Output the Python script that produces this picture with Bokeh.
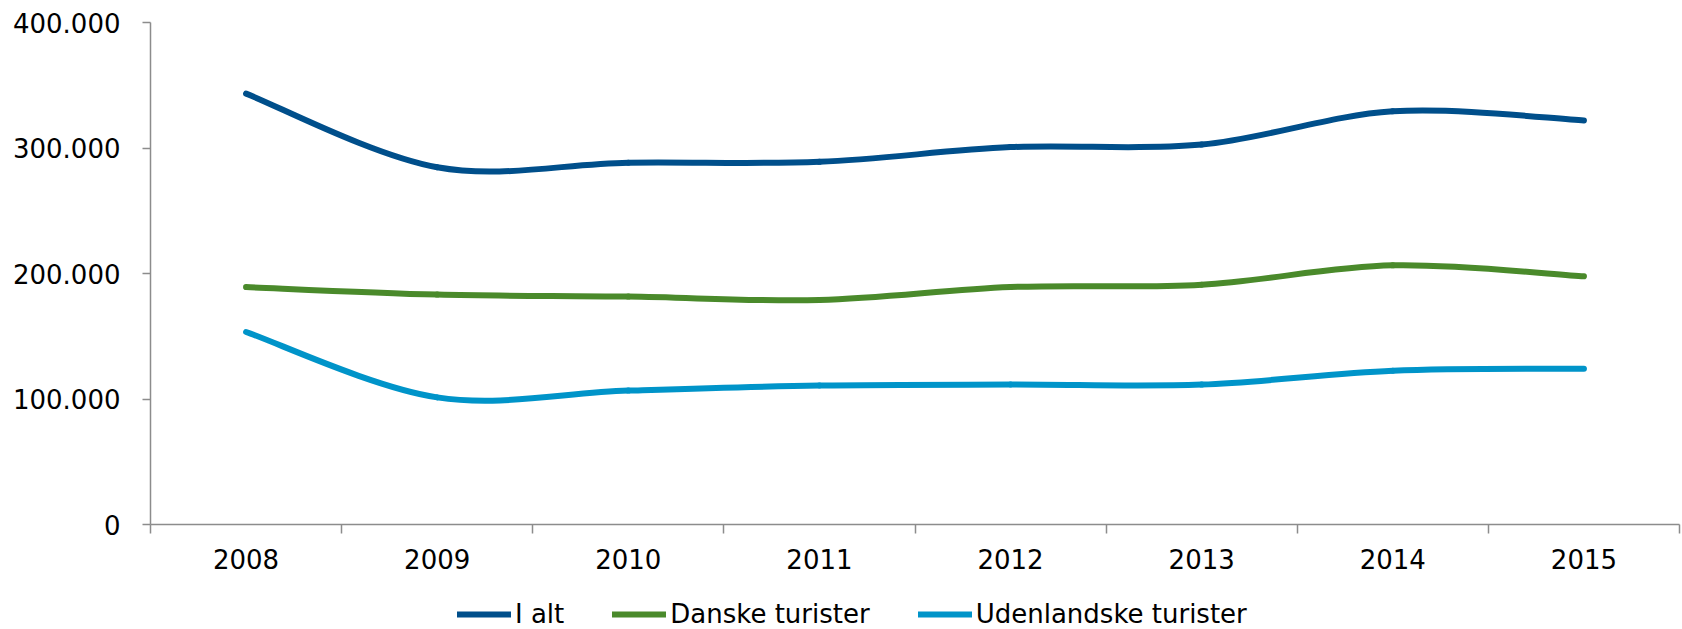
from bokeh.plotting import figure
from bokeh.layouts import column
from bokeh.models import FixedTicker, Legend, LegendItem, Range1d
from bokeh.embed import file_html
from bokeh.resources import INLINE

# ---- data ----
years = ["2008", "2009", "2010", "2011", "2012", "2013", "2014", "2015"]
i_alt = [343300, 284600, 288300, 289000, 300700, 302700, 329200, 322000]
danske = [189200, 183200, 181600, 178900, 189200, 191100, 206500, 197800]
udenlandske = [153400, 101300, 106700, 110700, 111500, 111500, 122600, 124200]
series_names = ["I alt", "Danske turister", "Udenlandske turister"]
y_ticks = [0, 100000, 200000, 300000, 400000]
y_tick_labels = ["0", "100.000", "200.000", "300.000", "400.000"]
colors = ["#004f8b", "#4a8a2b", "#0094c9"]

FONT = "DejaVu Sans"
FS = "26px"
AXIS_COLOR = "#8c8c8c"
LW = 6
NAN = float("nan")


def smooth_segments(ys):
    """Bezier segments through the data points (Excel-style smoothed line)."""
    xs = list(range(len(ys)))
    n = len(xs)

    def P(i):
        i = max(0, min(n - 1, i))
        return xs[i], ys[i]

    seg = dict(x0=[], y0=[], x1=[], y1=[], cx0=[], cy0=[], cx1=[], cy1=[])
    for i in range(n - 1):
        xa, ya = P(i)
        xb, yb = P(i + 1)
        xm, ym = P(i - 1)
        xp, yp = P(i + 2)
        seg["x0"].append(xa); seg["y0"].append(ya)
        seg["x1"].append(xb); seg["y1"].append(yb)
        seg["cx0"].append(xa + (xb - xm) / 6.0)
        seg["cy0"].append(ya + (yb - ym) / 6.0)
        seg["cx1"].append(xb - (xp - xa) / 6.0)
        seg["cy1"].append(yb - (yp - ya) / 6.0)
    return seg


p = figure(
    width=1682, height=599,
    x_range=Range1d(-0.5, len(years) - 0.5),
    y_range=Range1d(0, 400000),
    output_backend="svg", toolbar_location=None,
    min_border_left=150, min_border_right=3,
    min_border_top=22, min_border_bottom=75,
)
p.outline_line_color = None
p.xgrid.visible = False
p.ygrid.visible = False

# x axis: labels at category centres, tick marks at category boundaries
xa = p.xaxis[0]
xa.ticker = FixedTicker(ticks=list(range(len(years))),
                        minor_ticks=[i - 0.5 for i in range(len(years) + 1)])
xa.major_label_overrides = {i: y for i, y in enumerate(years)}
xa.major_tick_out = 0
xa.major_tick_in = 0
xa.minor_tick_out = 9
xa.minor_tick_in = 0
xa.minor_tick_line_color = AXIS_COLOR
xa.minor_tick_line_width = 1.5
xa.axis_line_color = AXIS_COLOR
xa.axis_line_width = 1.5
xa.major_label_standoff = 15
xa.major_label_text_font = FONT
xa.major_label_text_font_size = FS
xa.major_label_text_color = "black"

ya = p.yaxis[0]
ya.ticker = FixedTicker(ticks=y_ticks, minor_ticks=[])
ya.major_label_overrides = {t: l for t, l in zip(y_ticks, y_tick_labels)}
ya.major_tick_out = 8
ya.major_tick_in = 0
ya.minor_tick_out = 0
ya.minor_tick_in = 0
ya.major_tick_line_color = AXIS_COLOR
ya.major_tick_line_width = 1.5
ya.axis_line_color = AXIS_COLOR
ya.axis_line_width = 1.5
ya.major_label_standoff = 22
ya.major_label_text_font = FONT
ya.major_label_text_font_size = FS
ya.major_label_text_color = "black"

# legend strip underneath the chart
pl = figure(width=1682, height=30, x_axis_type=None, y_axis_type=None,
            x_range=Range1d(0, 1), y_range=Range1d(0, 1),
            output_backend="svg", toolbar_location=None, min_border=0)
pl.outline_line_color = None
pl.xgrid.visible = False
pl.ygrid.visible = False

items = []
for name, vals, col in zip(series_names, [i_alt, danske, udenlandske], colors):
    seg = smooth_segments(vals)
    p.bezier(line_color=col, line_width=LW, line_cap="round", source=seg,
             x0="x0", y0="y0", x1="x1", y1="y1",
             cx0="cx0", cy0="cy0", cx1="cx1", cy1="cy1")
    # legend-only renderer (draws nothing in the strip itself)
    dummy = pl.line(x=[NAN], y=[NAN], line_color=col, line_width=LW,
                    line_cap="round")
    items.append(LegendItem(label=name, renderers=[dummy]))

legend = Legend(items=items, orientation="horizontal", location="left")
legend.margin = 307
legend.border_line_color = None
legend.background_fill_alpha = 0
legend.padding = 0
legend.spacing = 48
legend.label_standoff = 4
legend.glyph_width = 54
legend.glyph_height = 20
legend.label_text_font = FONT
legend.label_text_font_size = FS
legend.label_text_color = "black"
pl.add_layout(legend, "center")

layout = column(p, pl, spacing=0)
open("out.html", "w").write(file_html(layout, INLINE))
